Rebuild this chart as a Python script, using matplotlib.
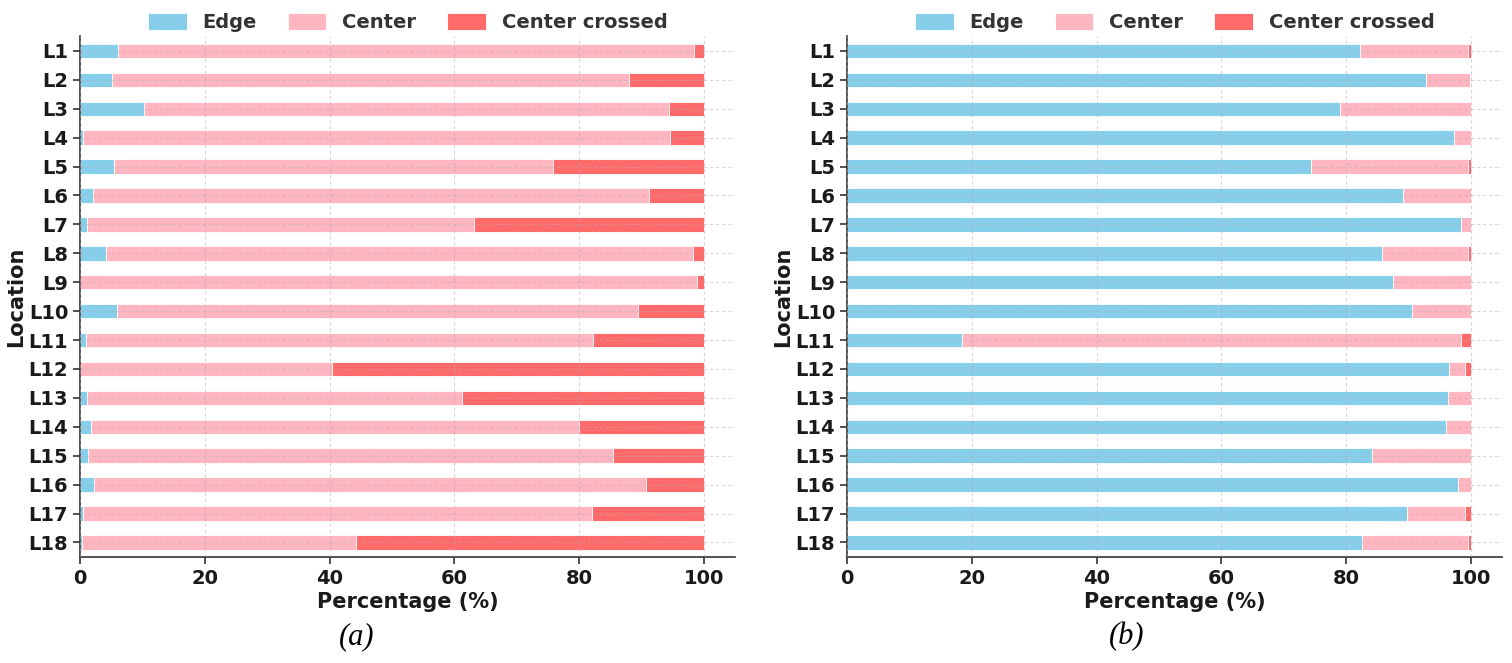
import matplotlib
matplotlib.use("Agg")
import matplotlib.pyplot as plt
import numpy as np

locations = [f"L{i}" for i in range(1, 19)]
categories = ["Edge", "Center", "Center crossed"]
colors = ["#87CEEB", "#FFB6C1", "#FF6B6B"]

# Panel (a)
edge_a = [6.1, 5.2, 10.3, 0.5, 5.5, 2.1, 1.1, 4.2, 0.0, 5.9, 0.9, 0.0, 1.1, 1.7, 1.3, 2.3, 0.5, 0.3]
center_a = [92.4, 82.8, 84.1, 94.1, 70.3, 89.1, 62.1, 94.0, 98.9, 83.5, 81.4, 40.4, 60.1, 78.3, 84.2, 88.5, 81.5, 43.9]
crossed_a = [1.5, 12.0, 5.6, 5.4, 24.2, 8.8, 36.8, 1.8, 1.1, 10.6, 17.7, 59.6, 38.8, 20.0, 14.5, 9.2, 18.0, 55.8]

# Panel (b)
edge_b = [82.3, 92.8, 79.1, 97.3, 74.4, 89.1, 98.5, 85.8, 87.5, 90.5, 18.4, 96.5, 96.4, 96.1, 84.1, 98.0, 89.7, 82.6]
center_b = [17.2, 7.0, 20.9, 2.7, 25.1, 10.9, 1.5, 13.8, 12.5, 9.5, 80.1, 2.6, 3.6, 3.9, 15.9, 2.0, 9.4, 17.0]
crossed_b = [0.5, 0.2, 0.0, 0.0, 0.5, 0.0, 0.0, 0.4, 0.0, 0.0, 1.5, 0.9, 0.0, 0.0, 0.0, 0.0, 0.9, 0.4]

captions = ["(a)", "(b)"]

fig = plt.figure(figsize=(15.12, 6.63), dpi=100)
ax_a = fig.add_axes([80 / 1512, 0.160, 655 / 1512, 0.785])
ax_b = fig.add_axes([847 / 1512, 0.160, 655 / 1512, 0.785])

for ax, series in ((ax_a, (edge_a, center_a, crossed_a)), (ax_b, (edge_b, center_b, crossed_b))):
    y = np.arange(len(locations))
    left = np.zeros(len(locations))
    for name, vals, col in zip(categories, series, colors):
        vals = np.array(vals)
        ax.barh(y, vals, left=left, height=0.5, color=col, label=name,
                edgecolor="white", linewidth=0.6)
        left = left + vals
    ax.set_yticks(y)
    ax.set_yticklabels(locations)
    ax.set_ylim(len(locations) - 0.5, -0.5)
    ax.set_xlim(0, 105)
    ax.set_xticks([0, 20, 40, 60, 80, 100])
    ax.grid(True, linestyle=(0, (3, 2.5)), color="#b0b0b0", alpha=0.5, linewidth=0.8)
    ax.set_axisbelow(False)
    for s in ("top", "right"):
        ax.spines[s].set_visible(False)
    for s in ("left", "bottom"):
        ax.spines[s].set_linewidth(1.2)
        ax.spines[s].set_color("#333333")
    ax.tick_params(axis="both", labelsize=14, length=5, width=1.2, color="#333333")
    for lab in ax.get_xticklabels() + ax.get_yticklabels():
        lab.set_fontweight("bold")
        lab.set_color("#1a1a1a")
    ax.set_xlabel("Percentage (%)", fontsize=15, fontweight="bold", color="#1a1a1a", labelpad=3)
    ax.set_ylabel("Location", fontsize=15, fontweight="bold", color="#1a1a1a", labelpad=2)
    leg = ax.legend(loc="lower center", bbox_to_anchor=(0.5, 0.993), ncol=3, frameon=False,
                    prop={"size": 14, "weight": "bold"}, borderaxespad=0.0,
                    columnspacing=1.6, handleheight=0.95, handlelength=2.0)
    for t in leg.get_texts():
        t.set_color("#333333")

fig.text(357 / 1512, 1 - 637 / 663, captions[0], ha="center", va="center",
         fontsize=22, fontstyle="italic", family="Liberation Serif")
fig.text(1127 / 1512, 1 - 637 / 663, captions[1], ha="center", va="center",
         fontsize=22, fontstyle="italic", family="Liberation Serif")

fig.savefig("out.png", dpi=100)
